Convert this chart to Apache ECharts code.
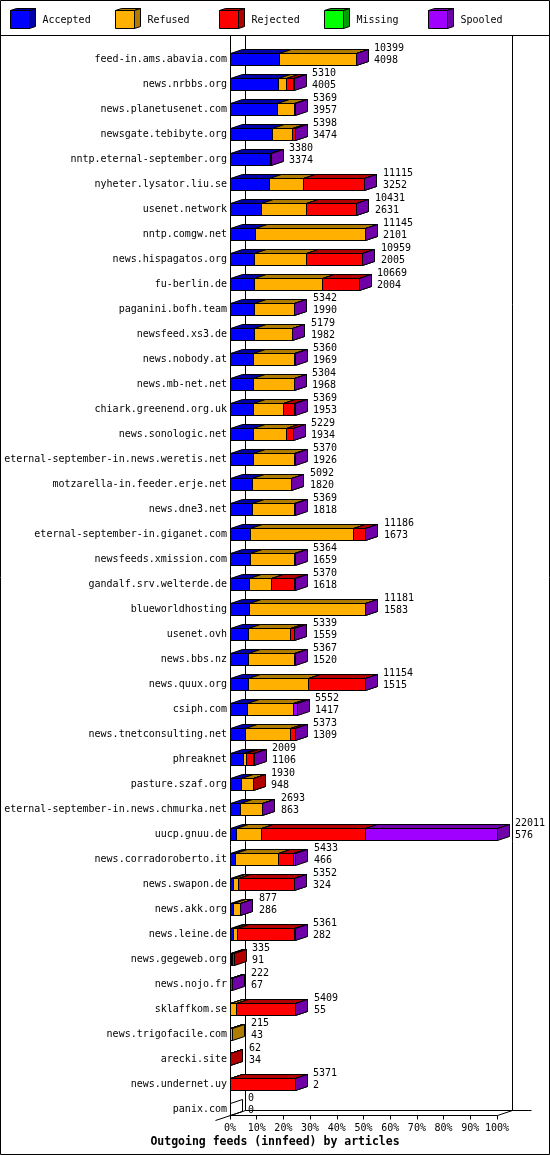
<!DOCTYPE html>
<html>
<head>
<meta charset="utf-8">
<script src="https://cdn.jsdelivr.net/npm/echarts@6/dist/echarts.min.js"></script>
<style>
  html, body { margin: 0; padding: 0; background: #fff; }
  #feedChart { width: 550px; height: 1155px; }
</style>
</head>
<body>
<div id="feedChart"></div>
<script>
// outgoing feeds, one row per peer (top to bottom)
const hosts = [
  "feed-in.ams.abavia.com", "news.nrbbs.org", "news.planetusenet.com", "newsgate.tebibyte.org",
  "nntp.eternal-september.org", "nyheter.lysator.liu.se", "usenet.network", "nntp.comgw.net",
  "news.hispagatos.org", "fu-berlin.de", "paganini.bofh.team", "newsfeed.xs3.de",
  "news.nobody.at", "news.mb-net.net", "chiark.greenend.org.uk", "news.sonologic.net",
  "eternal-september-in.news.weretis.net", "motzarella-in.feeder.erje.net", "news.dne3.net",
  "eternal-september-in.giganet.com", "newsfeeds.xmission.com", "gandalf.srv.welterde.de",
  "blueworldhosting", "usenet.ovh", "news.bbs.nz", "news.quux.org", "csiph.com",
  "news.tnetconsulting.net", "phreaknet", "pasture.szaf.org",
  "eternal-september-in.news.chmurka.net", "uucp.gnuu.de", "news.corradoroberto.it",
  "news.swapon.de", "news.akk.org", "news.leine.de", "news.gegeweb.org", "news.nojo.fr",
  "sklaffkom.se", "news.trigofacile.com", "arecki.site", "news.undernet.uy", "panix.com"
];
const offered = [10399, 5310, 5369, 5398, 3380, 11115, 10431, 11145, 10959, 10669, 5342, 5179,
  5360, 5304, 5369, 5229, 5370, 5092, 5369, 11186, 5364, 5370, 11181, 5339, 5367, 11154, 5552,
  5373, 2009, 1930, 2693, 22011, 5433, 5352, 877, 5361, 335, 222, 5409, 215, 62, 5371, 0];
const accepted = [4098, 4005, 3957, 3474, 3374, 3252, 2631, 2101, 2005, 2004, 1990, 1982,
  1969, 1968, 1953, 1934, 1926, 1820, 1818, 1673, 1659, 1618, 1583, 1559, 1520, 1515, 1417,
  1309, 1106, 948, 863, 576, 466, 324, 286, 282, 91, 67, 55, 43, 34, 2, 0];
const refused = [6291, 654, 1400, 1682, 0, 2789, 3658, 9030, 4284, 5609, 3340, 3185,
  3379, 3324, 2433, 2700, 3432, 3260, 3539, 8505, 3693, 1775, 9584, 3406, 3835, 4940, 3821,
  3656, 218, 980, 1818, 2015, 3506, 363, 579, 300, 120, 0, 500, 172, 0, 0, 0];
const rejected = [0, 579, 0, 230, 0, 5060, 4130, 0, 4655, 3040, 0, 0,
  0, 0, 971, 583, 0, 0, 0, 994, 0, 1965, 0, 362, 0, 4685, 0,
  396, 625, 2, 0, 8580, 1266, 4653, 0, 4767, 124, 0, 4842, 0, 28, 5357, 0];
const missing = [0, 0, 0, 0, 0, 0, 0, 0, 0, 0, 0, 0,
  0, 0, 0, 0, 0, 0, 0, 0, 0, 0, 0, 0, 0, 0, 0,
  0, 0, 0, 0, 0, 0, 0, 0, 0, 0, 0, 0, 0, 0, 0, 0];
const spooled = [10, 72, 12, 12, 6, 14, 12, 14, 15, 16, 12, 12,
  12, 12, 12, 12, 12, 12, 12, 14, 12, 12, 14, 12, 12, 14, 314,
  12, 60, 0, 12, 10840, 195, 12, 12, 12, 0, 155, 12, 0, 0, 12, 0];
const xTickLabels = ["0%", "10%", "20%", "30%", "40%", "50%", "60%", "70%", "80%", "90%", "100%"];
const maxOffered = 22011;

const seriesNames = ["Accepted", "Refused", "Rejected", "Missing", "Spooled"];
const frontColors = ["#0000ff", "#ffb000", "#ff0000", "#00ff00", "#a000ff"];
const darkColors = ["#0000a8", "#b07c00", "#b00000", "#00a000", "#7000a8"];
const parts = [accepted, refused, rejected, missing, spooled];

const FONT = '10px "DejaVu Sans Mono"';
const DX = 12, DY = 4, HALF = 6; // bar depth + half height
const WX = 15, WY = 5;           // wall depth

let myChart = echarts.init(document.getElementById("feedChart"));

function px(v) {
  return Math.floor(v) + 0.5;
}

function face(points, fill) {
  return {
    type: "polygon",
    shape: { points: points },
    style: { fill: fill, stroke: "#000", lineWidth: 1 },
  };
}

function barSeries(k) {
  return {
    type: "custom",
    name: seriesNames[k],
    silent: true,
    encode: { x: 0, y: 1 },
    data: hosts.map((h, i) => [parts[k][i], i]),
    renderItem: function (params, api) {
      const i = params.dataIndex;
      const v = parts[k][i];
      let start = 0;
      for (let j = 0; j < k; j++) start += parts[j][i];
      const a = api.coord([start, i]);
      const x0 = px(a[0]);
      const yTop = px(a[1] - HALF);
      const yBot = yTop + 2 * HALF;
      if (!v) {
        // empty row: only the end face outline
        if (k === 0 && offered[i] === 0) {
          return face([[x0, yTop], [x0 + DX, yTop - DY], [x0 + DX, yBot - DY], [x0, yBot]], "rgba(0,0,0,0)");
        }
        return null;
      }
      const b = api.coord([start + v, i]);
      const x1 = Math.max(x0, px(b[0]));
      return {
        type: "group",
        children: [
          {
            type: "rect",
            shape: { x: x0, y: yTop, width: x1 - x0, height: yBot - yTop },
            style: { fill: frontColors[k], stroke: "#000", lineWidth: 1 },
          },
          face([[x0, yTop], [x1, yTop], [x1 + DX, yTop - DY], [x0 + DX, yTop - DY]], darkColors[k]),
          face([[x1, yTop], [x1 + DX, yTop - DY], [x1 + DX, yBot - DY], [x1, yBot]], darkColors[k]),
        ],
      };
    },
  };
}

// back walls / floor of the 3d box
const frameSeries = {
  type: "custom",
  silent: true,
  z: 1,
  encode: { x: 0, y: 1 },
  data: [[0, 0]],
  renderItem: function (params, api) {
    const o = api.coord([0, hosts.length - 1]);
    const e = api.coord([maxOffered, hosts.length - 1]);
    const X0 = px(o[0]);
    const X1 = px(e[0]);
    const Yf = px(o[1] - HALF) + 2 * HALF;
    const Yb = Yf - WY;
    const top = 35.5;
    const line = (x1, y1, x2, y2) => ({
      type: "line",
      shape: { x1: x1, y1: y1, x2: x2, y2: y2 },
      style: { stroke: "#000", lineWidth: 1 },
    });
    return {
      type: "group",
      children: [
        line(X0, top, X0, Yf),
        line(X0 + WX, top, X0 + WX, Yb),
        line(X1 + WX, top, X1 + WX, Yb),
        line(X0 + WX, Yb, X1 + WX + 19, Yb),
        line(X0 - WX, Yf + WY, X0 + WX, Yb),
        line(X1, Yf, X1 + WX, Yb),
      ],
    };
  },
};

const labelSeries = {
  type: "custom",
  silent: true,
  z: 3,
  encode: { x: 0, y: 1 },
  data: hosts.map((h, i) => [offered[i], i]),
  renderItem: function (params, api) {
    const i = params.dataIndex;
    const p = api.coord([offered[i], i]);
    const x = Math.round(p[0]) + 18;
    return {
      type: "group",
      children: [
        { type: "text", style: { text: String(offered[i]), x: x, y: p[1] - 11, verticalAlign: "middle", font: FONT, fill: "#000" } },
        { type: "text", style: { text: String(accepted[i]), x: x, y: p[1] + 1, verticalAlign: "middle", font: FONT, fill: "#000" } },
      ],
    };
  },
};

// legend drawn as little cubes
const legendItems = [];
seriesNames.forEach(function (name, k) {
  const x = Math.round(10 + k * 104.5) + 0.5;
  const y = 10.5;
  legendItems.push(
    { type: "polygon", shape: { points: [[x, y], [x + 19, y], [x + 25, y - 2], [x + 6, y - 2]] }, style: { fill: darkColors[k], stroke: "#000", lineWidth: 1 } },
    { type: "polygon", shape: { points: [[x + 19, y], [x + 25, y - 2], [x + 25, y + 16], [x + 19, y + 18]] }, style: { fill: darkColors[k], stroke: "#000", lineWidth: 1 } },
    { type: "rect", shape: { x: x, y: y, width: 19, height: 18 }, style: { fill: frontColors[k], stroke: "#000", lineWidth: 1 } },
    { type: "text", style: { text: name, x: x + 32, y: 20, verticalAlign: "middle", font: FONT, fill: "#000" } }
  );
});

let option = {
  backgroundColor: "#fff",
  animation: false,
  title: {
    text: "Outgoing feeds (innfeed) by articles",
    left: "center",
    top: 1136,
    padding: 0,
    textStyle: {
      fontFamily: "DejaVu Sans Mono",
      fontWeight: "bold",
      fontSize: 11.5,
      color: "#000",
    },
  },
  graphic: [
    { type: "rect", shape: { x: 0.5, y: 0.5, width: 549, height: 1154 }, style: { fill: "none", stroke: "#000", lineWidth: 1 } },
    { type: "line", shape: { x1: 0, y1: 35.5, x2: 550, y2: 35.5 }, style: { stroke: "#000", lineWidth: 1 } },
  ].concat(legendItems),
  grid: {
    left: 230,
    right: 53,
    top: 47,
    height: 1075,
    containLabel: false,
  },
  xAxis: {
    type: "value",
    min: 0,
    max: maxOffered,
    interval: maxOffered / 10,
    offset: -6.5,
    splitLine: { show: false },
    axisLine: { show: true, lineStyle: { color: "#000", width: 1 } },
    axisTick: { show: true, length: 4, lineStyle: { color: "#000" } },
    axisLabel: {
      margin: 8,
      color: "#000",
      fontFamily: "DejaVu Sans Mono",
      fontSize: 10,
      formatter: function (v) {
        return xTickLabels[Math.round((v / maxOffered) * 10)];
      },
    },
  },
  yAxis: {
    type: "category",
    inverse: true,
    data: hosts,
    axisLine: { show: false },
    axisTick: { show: false },
    axisLabel: {
      interval: 0,
      margin: 3,
      color: "#000",
      fontFamily: "DejaVu Sans Mono",
      fontSize: 10,
    },
  },
  series: [frameSeries].concat(seriesNames.map((n, k) => barSeries(k))).concat([labelSeries]),
};

myChart.setOption(option);
</script>
</body>
</html>
